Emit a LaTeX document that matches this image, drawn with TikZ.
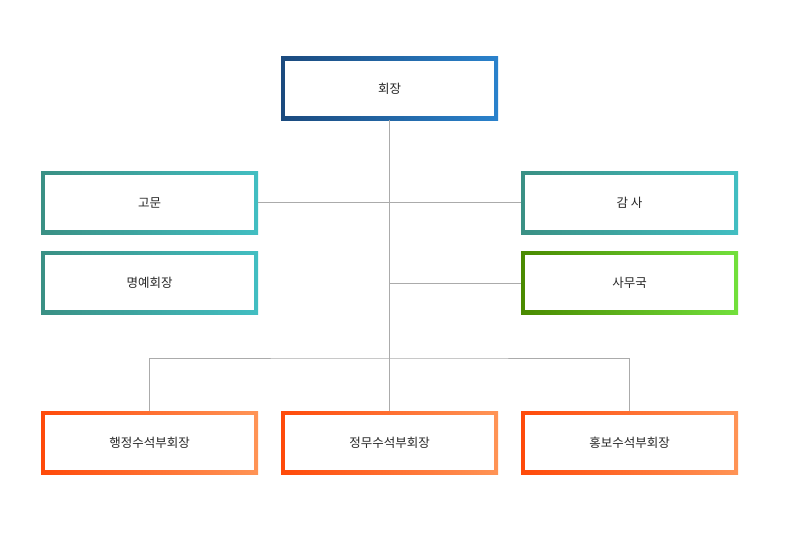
\documentclass[tikz,border=0pt]{standalone}
\usepackage{fontspec}
\newfontfamily\kr{Noto Sans CJK KR}
\usetikzlibrary{positioning}
\definecolor{blueA}{HTML}{1B4A7E}
\definecolor{blueB}{HTML}{2A82CC}
\definecolor{tealA}{HTML}{3A9084}
\definecolor{tealB}{HTML}{42BEC2}
\definecolor{greenA}{HTML}{4A8A00}
\definecolor{greenB}{HTML}{72E03C}
\definecolor{orangeA}{HTML}{FF4A0A}
\definecolor{orangeB}{HTML}{FF9456}
\definecolor{linegray}{HTML}{ABABAB}

\begin{document}
\begin{tikzpicture}[
  x=1pt, y=-1pt,
  frame/.style={rectangle, minimum width=217pt, minimum height=63pt, inner sep=0pt},
  inner/.style={rectangle, fill=white, minimum width=209pt, minimum height=55pt, inner sep=0pt, font=\kr\fontsize{12.5}{14}\selectfont, text=black!85},
  blue/.style={frame, left color=blueA, right color=blueB},
  teal/.style={frame, left color=tealA, right color=tealB},
  green/.style={frame, left color=greenA, right color=greenB},
  orange/.style={frame, left color=orangeA, right color=orangeB},
  line/.style={draw=linegray, line width=0.8pt}
]
\useasboundingbox (0,0) rectangle (792,543);

\node[blue] (chair) at (389.5,88.5) {};
\node[teal] (advisor) at (149.5,202.5) {};
\node[teal] (audit) at (629.5,202.5) {};
\node[teal, below=17pt of advisor] (honor) {};
\node[green, below=17pt of audit] (office) {};
\node[orange] (vpadmin) at (149.5,442.5) {};
\node[orange] (vpaffairs) at (389.5,442.5) {};
\node[orange] (vppr) at (629.5,442.5) {};

\node[inner] at (chair) {회장};
\node[inner] at (advisor) {고문};
\node[inner] at (audit) {감 사};
\node[inner] at (honor) {명예회장};
\node[inner] at (office) {사무국};
\node[inner] at (vpadmin) {행정수석부회장};
\node[inner] at (vpaffairs) {정무수석부회장};
\node[inner] at (vppr) {홍보수석부회장};

\coordinate (split) at (389.5,358);
\path[line] (chair.south) -- (vpaffairs.north);
\path[line] (advisor.east) -- (audit.west);
\path[line] (office.west) -- (office.west -| chair.south);
\path[line] (vpadmin.north) |- (split) -| (vppr.north);

\end{tikzpicture}
\end{document}
